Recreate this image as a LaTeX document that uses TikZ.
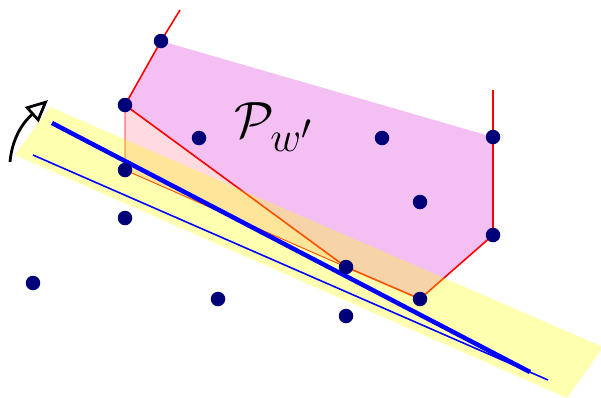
\documentclass[tikz,border=0pt]{standalone}
\usetikzlibrary{arrows.meta}
\definecolor{dotblue}{RGB}{0,0,120}
\definecolor{polypink}{RGB}{244,192,244}
\definecolor{lightpink}{RGB}{255,218,224}
\definecolor{bandyellow}{RGB}{255,255,0}
\tikzset{
  pt/.style={circle,fill=dotblue,inner sep=0pt,minimum size=14.5pt},
  edge/.style={red,line width=1.6pt},
  thinedge/.style={red,line width=0.9pt},
}
\begin{document}
\begin{tikzpicture}[x=1pt,y=-1pt]
\useasboundingbox (0,0) rectangle (601,397);
\coordinate (A) at (161,41);
\coordinate (B) at (125,105);
\coordinate (C) at (199,138);
\coordinate (D) at (382,138);
\coordinate (E) at (493,137);
\coordinate (F) at (420,202);
\coordinate (G) at (493,235);
\coordinate (H) at (125,170);
\coordinate (I) at (125,218);
\coordinate (J) at (346,267);
\coordinate (K) at (420,299);
\coordinate (L) at (33,283);
\coordinate (M) at (218,299);
\coordinate (N) at (346,316);
\coordinate (Aray) at (180,10);
\coordinate (Eray) at (493,90);
% polygon
\fill[polypink] (A) -- (E) -- (G) -- (K) -- (J) -- (B) -- cycle;
\fill[lightpink] (B) -- (H) -- (J) -- cycle;
\draw[thinedge] (B) -- (H) -- (J);
\draw[edge] (Aray) -- (A) -- (B) -- (J) -- (K) -- (G) -- (E) -- (Eray);
\node (lbl) at (274,127) {\scalebox{2.05}{\Huge$\mathcal{P}_{w'}$}};
% band
\coordinate (Y1) at (50,107);
\coordinate (Y2) at (603,347);
\coordinate (Y3) at (567,398);
\coordinate (Y4) at (15,155);
\fill[bandyellow,opacity=0.31] (Y1) -- (Y2) -- (Y3) -- (Y4) -- cycle;
% lines
\coordinate (T1) at (52,123);
\coordinate (T2) at (530,372);
\coordinate (S1) at (33,155);
\coordinate (S2) at (548,380);
\draw[blue,line width=4.5pt] (T1) -- (T2);
\draw[blue,line width=1.6pt] (S1) -- (S2);
% arrow
\coordinate (R1) at (10,162);
\coordinate (R2) at (48,100);
\draw[line width=2.8pt,-{Triangle[open,length=22pt,width=20pt]}] (R1) to[out=85,in=222] (R2);
% dots
\foreach \p in {A,B,C,D,E,F,G,H,I,J,K,L,M,N} \node[pt] (d\p) at (\p) {};
\end{tikzpicture}
\end{document}
